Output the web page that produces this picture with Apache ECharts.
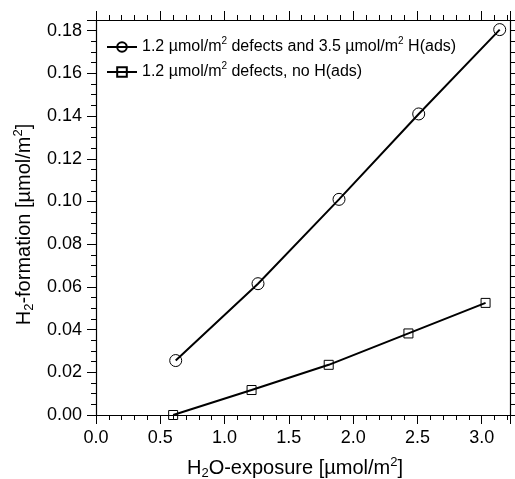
<!DOCTYPE html>
<html>
<head>
<meta charset="utf-8">
<script src="https://cdn.jsdelivr.net/npm/echarts@6/dist/echarts.min.js"></script>
<style>
  html, body { margin: 0; padding: 0; background: #fff; }
  #chart { width: 515px; height: 479px; }
</style>
</head>
<body>
<div id="chart"></div>
<script>
// values
const withHX = [0.62, 1.26, 1.89, 2.51, 3.14];
const withHY = [0.0255, 0.0615, 0.101, 0.141, 0.1805];
const noHX = [0.60, 1.21, 1.81, 2.43, 3.03];
const noHY = [0.0, 0.0117, 0.0235, 0.0382, 0.0525];

const seriesNames = ['withH', 'noH'];
const legendLabels = {
  withH: '{a|1.2 µmol/m}{sup|2}{a| defects and 3.5 µmol/m}{sup|2}{a| H(ads)}',
  noH: '{a|1.2 µmol/m}{sup|2}{a| defects, no H(ads)}',
};

const FONT = '"Liberation Sans", Arial, sans-serif';
const black = '#000';

const chart = echarts.init(document.getElementById('chart'), null, { renderer: 'canvas' });

const axisLine = { show: true, onZero: false, lineStyle: { color: black, width: 1.2 } };
const axisTick = { show: true, inside: false, length: 9, lineStyle: { color: black, width: 1 } };
const minorTick = { show: true, splitNumber: 5, length: 5, lineStyle: { color: black, width: 1 } };

const xBase = { type: 'value', min: 0, max: 3.22, interval: 0.5, splitLine: { show: false } };
const yBase = { type: 'value', min: 0, max: 0.185, interval: 0.02, splitLine: { show: false } };

const supRich = {
  a: { fontFamily: FONT, fontSize: 20, color: black, lineHeight: 24 },
  sup: { fontFamily: FONT, fontSize: 13, color: black, verticalAlign: 'top', lineHeight: 24, padding: [0, 0, 9, 0] },
  sub: { fontFamily: FONT, fontSize: 13, color: black, verticalAlign: 'bottom', lineHeight: 24, padding: [8, 0, 0, 0] },
};

function toPairs(xs, ys) {
  return xs.map((x, i) => [x, ys[i]]);
}

chart.setOption({
  animation: false,
  backgroundColor: '#fff',
  grid: { left: 96, right: 5, top: 20, bottom: 64, containLabel: false, outerBoundsMode: 'none' },
  legend: {
    orient: 'vertical',
    left: 101,
    top: 31,
    itemWidth: 30,
    itemHeight: 12,
    itemGap: 6,
    data: seriesNames,
    formatter: (name) => legendLabels[name],
    textStyle: {
      fontFamily: FONT,
      rich: {
        a: { fontFamily: FONT, fontSize: 16, color: black, lineHeight: 22 },
        sup: { fontFamily: FONT, fontSize: 10, color: black, verticalAlign: 'top', lineHeight: 22, padding: [0, 0, 8, 0] },
      },
    },
  },
  xAxis: [
    {
      ...xBase,
      position: 'bottom',
      axisLine,
      axisTick,
      minorTick,
      axisLabel: {
        color: black, fontFamily: FONT, fontSize: 18, margin: 14,
        showMaxLabel: false,
        formatter: (v) => v.toFixed(1),
      },
      name: '{a|H}{sub|2}{a|O-exposure [µmol/m}{sup|2}{a|]}',
      nameLocation: 'middle',
      nameGap: 41,
      nameTextStyle: { rich: supRich, padding: [0, 16, 0, 0] },
    },
    {
      ...xBase,
      position: 'top',
      axisLine,
      axisTick,
      minorTick,
      axisLabel: { show: false },
    },
  ],
  yAxis: [
    {
      ...yBase,
      position: 'left',
      axisLine,
      axisTick,
      minorTick: { ...minorTick, splitNumber: 4 },
      axisLabel: {
        color: black, fontFamily: FONT, fontSize: 18, margin: 14,
        showMaxLabel: false,
        formatter: (v) => v.toFixed(2),
      },
      name: '{a|H}{sub|2}{a|-formation [µmol/m}{sup|2}{a|]}',
      nameLocation: 'middle',
      nameGap: 56,
      nameTextStyle: { rich: supRich, padding: [0, 14, 0, 0] },
    },
    {
      ...yBase,
      position: 'right',
      axisLine,
      axisTick,
      minorTick: { ...minorTick, splitNumber: 4 },
      axisLabel: { show: false },
    },
  ],
  series: [
    {
      name: 'withH',
      type: 'line',
      xAxisIndex: 0,
      yAxisIndex: 0,
      data: toPairs(withHX, withHY),
      symbol: 'circle',
      symbolSize: 12,
      showAllSymbol: true,
      lineStyle: { color: black, width: 2 },
      itemStyle: { color: 'rgba(0,0,0,0)', borderColor: black, borderWidth: 1 },
      z: 3,
    },
    {
      name: 'noH',
      type: 'line',
      xAxisIndex: 0,
      yAxisIndex: 0,
      data: toPairs(noHX, noHY),
      symbol: 'rect',
      symbolSize: 9,
      showAllSymbol: true,
      lineStyle: { color: black, width: 2 },
      itemStyle: { color: 'rgba(0,0,0,0)', borderColor: black, borderWidth: 1 },
      z: 3,
    },
  ],
});
</script>
</body>
</html>
